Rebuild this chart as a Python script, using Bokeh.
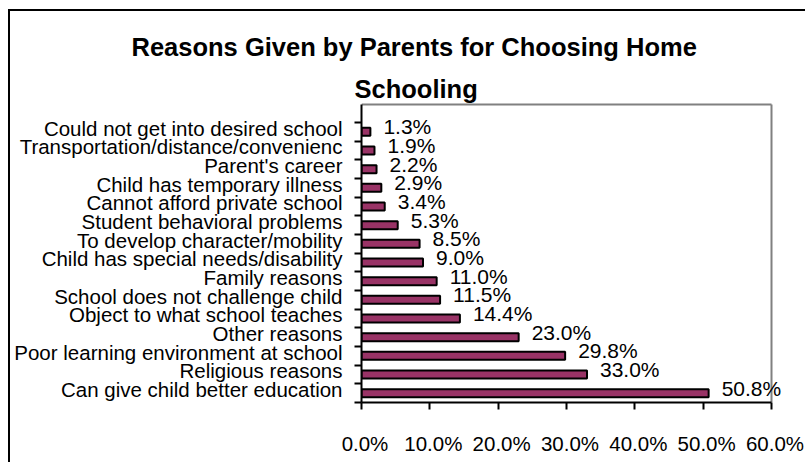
from bokeh.plotting import figure
from bokeh.models import (Range1d, LinearAxis, FixedTicker, PrintfTickFormatter, Title)
from bokeh.core.properties import value
from bokeh.embed import file_html
from bokeh.resources import INLINE

# ---- data (top to bottom as shown) ----
categories = [
    "Could not get into desired school",
    "Transportation/distance/convenienc",
    "Parent's career",
    "Child has temporary illness",
    "Cannot afford private school",
    "Student behavioral problems",
    "To develop character/mobility",
    "Child has special needs/disability",
    "Family reasons",
    "School does not challenge child",
    "Object to what school teaches",
    "Other reasons",
    "Poor learning environment at school",
    "Religious reasons",
    "Can give child better education",
]
values = [1.3, 1.9, 2.2, 2.9, 3.4, 5.3, 8.5, 9.0, 11.0, 11.5, 14.4, 23.0, 29.8, 33.0, 50.8]
x_ticks = [0, 10, 20, 30, 40, 50, 60]
title_lines = ["Reasons Given by Parents for Choosing Home", "Schooling"]

n = len(categories)
y_pos = [n - i for i in range(n)]
labels = [f"{v:.1f}%" for v in values]

FONT = "Liberation Sans"
W, H = 805, 462
MB_L, MB_R, MB_T, MB_B = 361, 12, 102, H - 402
unit = 18.667                      # px per category
x_px = 410 / 60.0                  # px per percent
frame_h = H - MB_T - MB_B
frame_w = W - MB_L - MB_R
y_end = 0.5 + frame_h / unit
x_end = frame_w / x_px
gray_top = 0.5 + (frame_h - 2) / unit
x_max = x_ticks[-1]

p = figure(width=W, height=H, output_backend="svg", toolbar_location=None,
           x_range=Range1d(0, x_end), y_range=Range1d(0.5, y_end),
           x_axis_location=None, y_axis_location=None,
           min_border_left=MB_L, min_border_right=MB_R,
           min_border_top=MB_T, min_border_bottom=MB_B,
           styles={"vertical-align": "top",
                   "box-shadow": "inset 8px 9px 0 0 white, inset 10px 11px 0 0 black"})
for g in p.grid:
    g.visible = False
p.outline_line_color = None
p.background_fill_color = "white"
p.border_fill_color = None

# shifted ranges so labels sit slightly off their ticks, as in the original
dy = 3.5 / unit
dx = 3.5 / x_px
p.extra_y_ranges = {"ylab": Range1d(0.5 - dy, y_end - dy)}
p.extra_x_ranges = {"xlab": Range1d(0 - dx, x_end - dx)}

# plot-area gray border (top and right)
p.segment(x0=[0, x_max], y0=[gray_top, 0.5], x1=[x_max, x_max], y1=[gray_top, gray_top],
          line_color="#808080", line_width=2)

p.hbar(y=y_pos, left=0, right=values, height=0.43,
       fill_color="#993366", line_color="black", line_width=2)

p.text(x=values, y=y_pos, text=labels, x_offset=13, y_offset=-5,
       text_baseline="middle", text_align="left", text_font=value(FONT),
       text_font_size="21px", text_color="black")

# y axis: labels at (shifted) centres, minor ticks at category boundaries
yax = LinearAxis(y_range_name="ylab",
                 ticker=FixedTicker(ticks=y_pos,
                                    minor_ticks=[k + 0.5 - dy for k in range(n + 1)]),
                 bounds=(0.5 - dy, gray_top - dy),
                 major_label_overrides={y: c for y, c in zip(y_pos, categories)},
                 axis_line_color="black", axis_line_width=2,
                 major_tick_out=0, major_tick_in=0,
                 minor_tick_out=7, minor_tick_in=0,
                 minor_tick_line_color="black", minor_tick_line_width=2,
                 major_label_standoff=12, major_label_text_font=FONT,
                 major_label_text_font_size="20.5px", major_label_text_color="black")
p.add_layout(yax, "left")

xax = LinearAxis(x_range_name="xlab",
                 ticker=FixedTicker(ticks=x_ticks, minor_ticks=[t - dx for t in x_ticks]),
                 bounds=(0 - dx, x_max - dx),
                 formatter=PrintfTickFormatter(format="%.1f%%"),
                 axis_line_color="black", axis_line_width=2,
                 major_tick_out=0, major_tick_in=0,
                 minor_tick_out=7, minor_tick_in=0,
                 minor_tick_line_color="black", minor_tick_line_width=2,
                 major_label_standoff=22, major_label_text_font=FONT,
                 major_label_text_font_size="20.5px", major_label_text_color="black")
p.add_layout(xax, "below")

# title (two lines); first added sits nearest the plot
p.add_layout(Title(text=title_lines[1], align="left", offset=-7, standoff=0,
                   text_font=FONT, text_font_style="bold", text_font_size="25.5px",
                   text_color="black"), "above")
p.add_layout(Title(text=title_lines[0], align="left", offset=-230, standoff=24,
                   text_font=FONT, text_font_style="bold", text_font_size="25.5px",
                   text_color="black"), "above")

open("out.html", "w").write(file_html(p, INLINE))
